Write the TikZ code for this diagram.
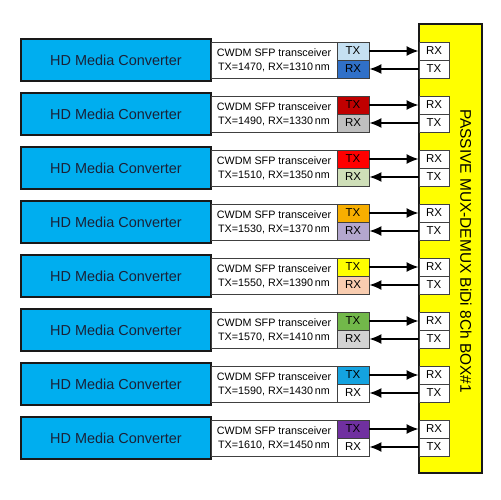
\documentclass[tikz,border=0pt]{standalone}
\usepackage{fontspec}
\setmainfont{Liberation Sans}
\usetikzlibrary{arrows.meta}
\definecolor{mcblue}{HTML}{00AEEF}
\definecolor{mctext}{HTML}{1A2238}
\definecolor{boxyellow}{HTML}{FFFF00}
\definecolor{edgegray}{HTML}{404040}
\tikzset{
  conv/.style={draw=black!90, line width=1.8bp, fill=mcblue, minimum width=190bp, minimum height=42bp, inner sep=0pt, text=mctext, font=\fontsize{14.5}{16}\selectfont},
  sfp/.style={draw=edgegray, line width=0.9bp, fill=white, minimum width=158bp, minimum height=36bp, inner sep=0pt},
  sfptext/.style={align=center, inner sep=0pt, font=\fontsize{10.8}{14}\selectfont},
  cell/.style={draw=edgegray, line width=0.9bp, minimum width=32bp, minimum height=18bp, inner sep=0pt, font=\fontsize{11.5}{12}\selectfont},
  mcell/.style={draw=edgegray, line width=0.9bp, fill=white, minimum width=30bp, minimum height=18bp, inner sep=0pt, font=\fontsize{11.5}{12}\selectfont},
  link/.style={line width=1.4bp, -{Latex[length=12bp,width=10bp]}},
}
\begin{document}
\begin{tikzpicture}[x=1bp,y=-1bp]
\useasboundingbox[fill=white] (0,0) rectangle (500,500);
\node[draw=black!90, line width=1.8bp, fill=boxyellow, minimum width=63bp, minimum height=449bp, inner sep=0pt] (mux) at (450.5,248.5) {};
\node[rotate=-90, font=\fontsize{15.5}{16}\selectfont, inner sep=0pt] (muxlabel) at (466,251) {PASSIVE MUX-DEMUX BiDi 8Ch BOX\#1};
\foreach \i/\tx/\rx/\txc/\rxc in {
  1/1470/1310/C5E0F2/3070C8,
  2/1490/1330/C00000/BFBFBF,
  3/1510/1350/FF0000/CFDFB8,
  4/1530/1370/F7AE00/B4A7CE,
  5/1550/1390/FFFF00/F9CDB0,
  6/1570/1410/72B84A/D3D3D3,
  7/1590/1430/14A3E0/FFFFFF,
  8/1610/1450/7030A0/FFFFFF} {
  \pgfmathsetmacro{\cy}{60+54*(\i-1)}
  \definecolor{txcol}{HTML}{\txc}
  \definecolor{rxcol}{HTML}{\rxc}
  \node[conv] (b\i) at (116,\cy) {HD Media Converter};
  \node[sfp] (s\i) at (290,\cy) {};
  \node[sfptext] (t\i) at (274,\cy) {CWDM SFP transceiver\\TX=\tx, RX=\rx\,nm};
  \node[cell, fill=txcol] (tx\i) at (353,\cy-9) {TX};
  \node[cell, fill=rxcol] (rx\i) at (353,\cy+9) {RX};
  \node[mcell] (mr\i) at (434,\cy-9) {RX};
  \node[mcell] (mt\i) at (434,\cy+9) {TX};
  \draw[link] (tx\i.east) -- (mr\i.west);
  \draw[link] (mt\i.west) -- (rx\i.east);
}
\end{tikzpicture}
\end{document}
